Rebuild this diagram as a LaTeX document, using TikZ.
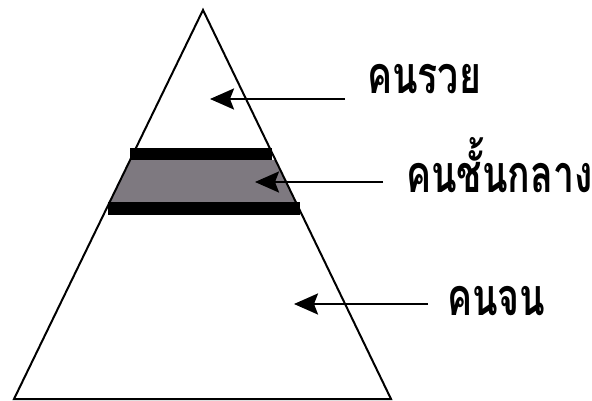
\documentclass[tikz,border=0pt]{standalone}
\usepackage{fontspec}
\newfontfamily\thaifont[Script=Thai, FakeStretch=0.72]{Loma}
\usetikzlibrary{arrows.meta}
\definecolor{bandgray}{RGB}{126,121,128}

\begin{document}
\begin{tikzpicture}[
    x=1pt, y=-1pt,
    lbl/.style={font=\thaifont\bfseries\fontsize{52}{52}\selectfont, anchor=base west, inner sep=0pt},
    pointer/.style={-{Stealth[length=24pt, width=21pt, inset=4pt]}, line width=2.5pt},
    bar/.style={fill=black, draw=none}
]
\useasboundingbox (0,0) rectangle (592,401);

% ===== Pyramid =====
\coordinate (apex) at (203,10);
\coordinate (bl) at (14,399);
\coordinate (br) at (391,399);

% Middle band (grey with black edges)
\fill[bandgray] (130,160) -- (275,160) -- (296,202) -- (110,202) -- cycle;
\fill[bar] (130,148) rectangle (272,160);
\fill[bar] (108,202) rectangle (300,215);

\draw[line width=2pt, line join=miter] (apex) -- (br) -- (bl) -- cycle;

% ===== Labels =====
\node[lbl] (rich) at (367,94) {คนรวย};
\node[lbl] (middle) at (406,193) {คนชั้นกลาง};
\node[lbl] (poor) at (447,315) {คนจน};

% Arrow ends
\coordinate (richtail) at (345,99);
\coordinate (richtip) at (210,99);
\coordinate (midtail) at (383,182);
\coordinate (midtip) at (255,182);
\coordinate (poortail) at (428,304);
\coordinate (poortip) at (294,304);

% Arrows
\draw[pointer] (richtail) -- (richtip);
\draw[pointer] (midtail) -- (midtip);
\draw[pointer] (poortail) -- (poortip);

\end{tikzpicture}
\end{document}
